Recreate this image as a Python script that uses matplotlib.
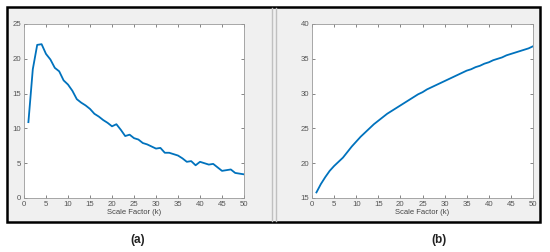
import numpy as np
import matplotlib
matplotlib.use('Agg')
import matplotlib.pyplot as plt
from matplotlib.patches import Rectangle
from matplotlib.lines import Line2D

plt.rcParams['font.family'] = ['Liberation Sans', 'DejaVu Sans']

# Scale factor k
k = np.arange(1, 51)

# Panel (a)
vals_a = [10.9, 18.5, 22.0, 22.1, 20.7, 19.9, 18.7, 18.2, 16.9, 16.3,
          15.4, 14.2, 13.7, 13.3, 12.8, 12.1, 11.7, 11.2, 10.8, 10.3,
          10.6, 9.8, 8.9, 9.1, 8.6, 8.4, 7.9, 7.7, 7.4, 7.1,
          7.2, 6.5, 6.5, 6.3, 6.1, 5.7, 5.2, 5.3, 4.7, 5.2,
          5.0, 4.8, 4.9, 4.4, 3.9, 4.0, 4.1, 3.6, 3.5, 3.4]

# Panel (b)
vals_b = [15.8, 17.0, 18.0, 18.9, 19.6, 20.2, 20.8, 21.6, 22.4, 23.1,
          23.8, 24.4, 25.0, 25.6, 26.1, 26.6, 27.1, 27.5, 27.9, 28.3,
          28.7, 29.1, 29.5, 29.9, 30.2, 30.6, 30.9, 31.2, 31.5, 31.8,
          32.1, 32.4, 32.7, 33.0, 33.3, 33.5, 33.8, 34.0, 34.3, 34.5,
          34.8, 35.0, 35.2, 35.5, 35.7, 35.9, 36.1, 36.3, 36.5, 36.8]

xticks = list(range(0, 51, 5))
yticks_a = [0, 5, 10, 15, 20, 25]
yticks_b = [15, 20, 25, 30, 35, 40]

W, H = 550, 252
fig = plt.figure(figsize=(W / 100, H / 100), dpi=100)
fig.patch.set_facecolor('white')


def px(x0, y0, x1, y1):
    # pixel box (from top-left) to figure fraction rect
    return [x0 / W, 1 - y1 / H, (x1 - x0) / W, (y1 - y0) / H]


# screenshot frame
bg = fig.add_axes([0, 0, 1, 1])
bg.set_xlim(0, W)
bg.set_ylim(H, 0)
bg.axis('off')
bg.add_patch(Rectangle((7, 7), 533, 215, facecolor='#f0f0f0', edgecolor='black', lw=1.8))
bg.add_line(Line2D([272, 272], [8, 221], color='#c0c0c0', lw=1))
bg.add_line(Line2D([276, 276], [8, 221], color='#c0c0c0', lw=1))
bg.text(138, 240, '(a)', ha='center', va='center', fontsize=8.5, fontweight='bold', color='#222222')
bg.text(439, 240, '(b)', ha='center', va='center', fontsize=8.5, fontweight='bold', color='#222222')


def style(ax, yticks):
    ax.set_facecolor('white')
    ax.set_xlim(0, 50)
    ax.set_ylim(yticks[0], yticks[-1])
    ax.set_xticks(xticks)
    ax.set_yticks(yticks)
    ax.tick_params(direction='in', length=2, width=0.5, labelsize=5.6, colors='#555555',
                   top=True, right=True, pad=2)
    for s in ax.spines.values():
        s.set_color('#999999')
        s.set_linewidth(0.6)
    ax.set_xlabel('Scale Factor (k)', fontsize=5.5, color='#444444', labelpad=1)


ax1 = fig.add_axes(px(24, 24, 244, 198))
ax1.plot(k, vals_a, color='#0072BD', lw=1.3)
style(ax1, yticks_a)

ax2 = fig.add_axes(px(312, 24, 533, 198))
ax2.plot(k, vals_b, color='#0072BD', lw=1.3)
style(ax2, yticks_b)

fig.savefig('out.png', dpi=100, facecolor='white')
